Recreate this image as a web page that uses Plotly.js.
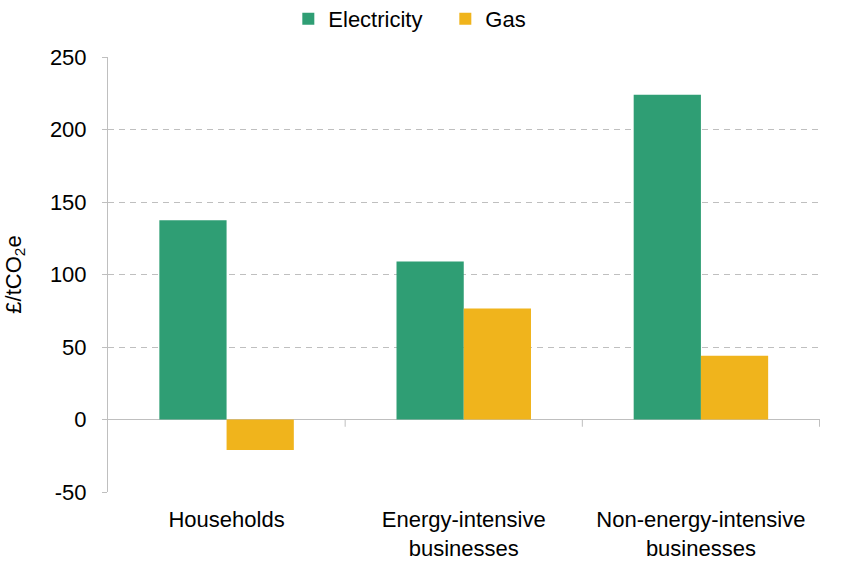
<!DOCTYPE html>
<html>
<head>
<meta charset="utf-8">
<script src="https://cdn.plot.ly/plotly-3.0.1.min.js"></script>
<style>
  html, body { margin: 0; padding: 0; background: #fff; }
  #chart { width: 848px; height: 563px; }
</style>
</head>
<body>
<div id="chart"></div>
<script>
// categories and values (£/tCO2e)
const categories = ['Households', 'Energy-intensive<br>businesses', 'Non-energy-intensive<br>businesses'];
const electricity = [137.5, 109, 224];
const gas = [-21, 76.5, 44];
const yTicks = [-50, 0, 50, 100, 150, 200, 250];
const yTickText = ['-50', '0', '50', '100', '150', '200', '250'];

const green = '#2f9e74';
const yellow = '#f0b41c';
const grey = '#bfbfbf';
const fontSize = 22;

let dataDraw = [
    { x: categories, y: electricity, type: 'bar', name: 'Electricity', marker: { color: green } },
    { x: categories, y: gas, type: 'bar', name: 'Gas', marker: { color: yellow } }
];

// little divider ticks hanging below the zero line between categories
let shapes = [0.5, 1.5, 2.5].map(pos => ({
    type: 'line', xref: 'x', yref: 'y',
    x0: pos, x1: pos, y0: 0, y1: -5,
    line: { color: grey, width: 1 }
}));

let layout = {
    width: 848,
    height: 563,
    margin: { l: 108, r: 28, t: 57, b: 71 },
    paper_bgcolor: '#fff',
    plot_bgcolor: '#fff',
    font: { family: 'Liberation Sans, Arial, sans-serif', size: fontSize, color: '#000' },
    barmode: 'group',
    bargap: 0.433,
    bargroupgap: 0,
    showlegend: true,
    legend: {
        orientation: 'h',
        xref: 'container', yref: 'container',
        x: 0.340, xanchor: 'left',
        y: 1 - 19 / 563, yanchor: 'middle',
        font: { size: fontSize },
        itemwidth: 30,
        entrywidth: 112,
        traceorder: 'normal'
    },
    xaxis: {
        showline: false,
        showgrid: false,
        ticks: '',
        tickfont: { size: fontSize },
        ticklabelstandoff: 12,
        automargin: false
    },
    yaxis: {
        range: [-50, 250],
        tickvals: yTicks,
        ticktext: yTickText,
        ticks: 'outside',
        ticklen: 5,
        tickcolor: grey,
        showline: true,
        linecolor: grey,
        linewidth: 1,
        showgrid: true,
        gridcolor: grey,
        griddash: '6px,5px',
        gridwidth: 1,
        zeroline: true,
        zerolinecolor: grey,
        zerolinewidth: 1,
        tickfont: { size: fontSize },
        ticklabelstandoff: 11,
        title: { text: '£/tCO<sub>2</sub>e', font: { size: fontSize }, standoff: 22 },
        automargin: false
    },
    shapes: shapes
};

Plotly.newPlot('chart', dataDraw, layout, { displayModeBar: false, staticPlot: true });
</script>
</body>
</html>
